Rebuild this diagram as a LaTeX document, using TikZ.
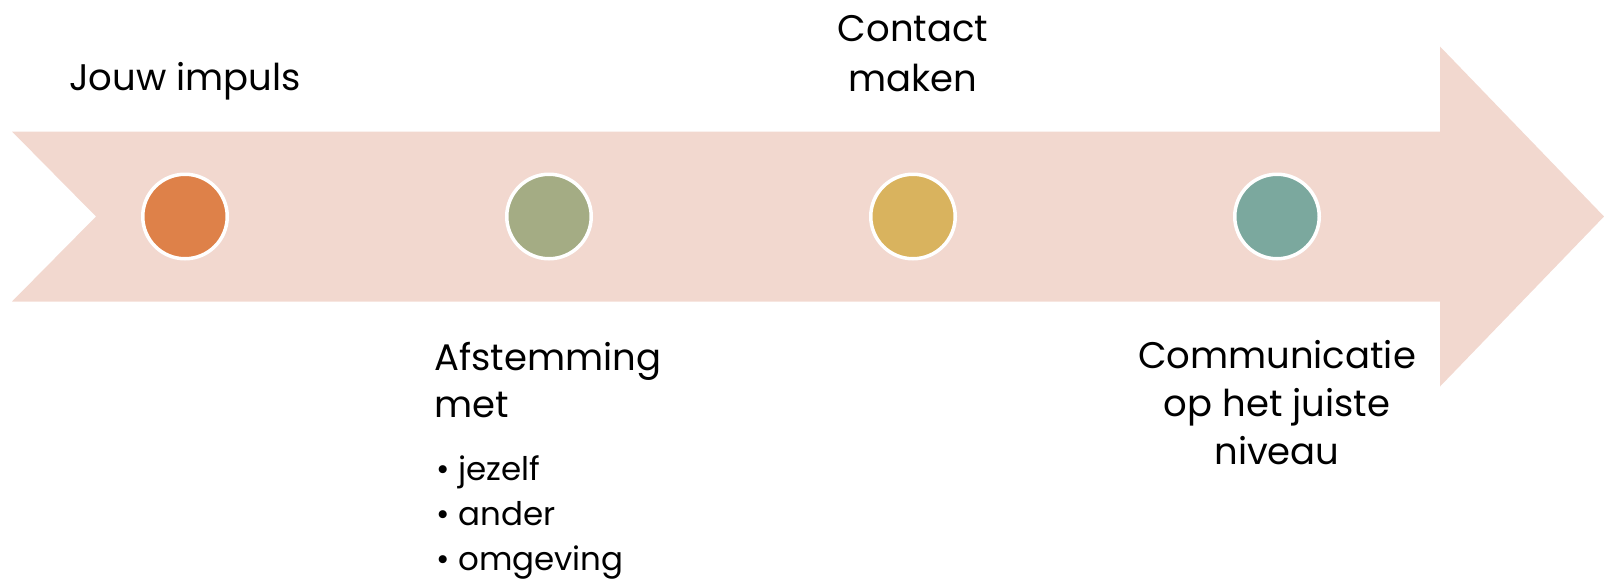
\documentclass[tikz,border=0pt]{standalone}
\usepackage{fontspec}
\setmainfont{Poppins}
\usepackage{xcolor}
\definecolor{arrowpink}{HTML}{F2D8CF}
\definecolor{dotorange}{HTML}{DE8149}
\definecolor{dotgreen}{HTML}{A4AC84}
\definecolor{dotgold}{HTML}{D9B35E}
\definecolor{dotteal}{HTML}{7BA89E}
\usetikzlibrary{positioning}

\begin{document}
\begin{tikzpicture}[
  x=1pt, y=-1pt,
  node distance=276pt,
  dot/.style={circle, draw=white, line width=3.5pt,
              minimum size=84.5pt, inner sep=0pt},
  toplbl/.style={font=\fontsize{37}{50}\selectfont, inner sep=0pt, align=center},
  lowlbl/.style={font=\fontsize{37}{47}\selectfont, inner sep=0pt},
  items/.style={font=\fontsize{32.5}{45}\selectfont, inner sep=0pt, align=left}
]
  \useasboundingbox (0,0) rectangle (1604,579);

  % the big arrow
  \fill[arrowpink] (12,131.5) -- (1440,131.5) -- (1440,46.5) -- (1604,216.5)
    -- (1440,386.5) -- (1440,301.5) -- (12,301.5) -- (96,216.5) -- cycle;

  \node[dot, fill=dotorange] (c1) at (185,216.5) {};
  \node[dot, fill=dotgreen, right=of c1] (c2) {};
  \node[dot, fill=dotgold,  right=of c2] (c3) {};
  \node[dot, fill=dotteal,  right=of c3] (c4) {};

  \node[toplbl, above=82.5pt of c1.north, anchor=base] (impuls) {Jouw impuls};
  \node[toplbl, above=80.5pt of c3.north, anchor=south] (contact) {Contact\\maken};

  \node[lowlbl, align=left, anchor=north west] (afst) at (434,342)
    {Afstemming\\met};
  \node[items, below=37pt of afst.south west, anchor=north west, xshift=2pt] (list)
    {\textbullet\ jezelf\\\textbullet\ ander\\\textbullet\ omgeving};

  \node[lowlbl, align=center, font=\fontsize{37}{48}\selectfont,
        below=80pt of c4.south] (comm)
    {Communicatie\\op het juiste\\niveau};
\end{tikzpicture}
\end{document}
